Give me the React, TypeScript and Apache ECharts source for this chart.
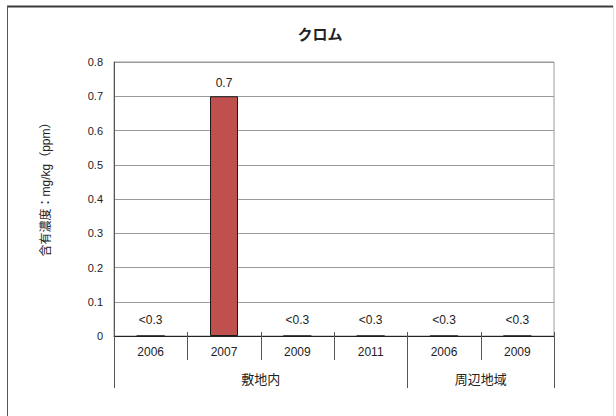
import React, { useEffect, useRef } from "react";
import * as echarts from "echarts";

const titleText = "クロム";
const yAxisName = "含有濃度：mg/kg（ppm）";
const years = ["2006", "2007", "2009", "2011", "2006", "2009"];
const values = [0, 0.7, 0, 0, 0, 0];
const valueLabels = ["<0.3", "0.7", "<0.3", "<0.3", "<0.3", "<0.3"];
const groupNames = ["敷地内", "周辺地域"];
const groupSizes = [4, 2];
const yMin = 0;
const yMax = 0.8;
const yStep = 0.1;

const FONT = "'Liberation Sans', 'Noto Sans CJK JP', sans-serif";

export default function App() {
  const ref = useRef<HTMLDivElement>(null);
  useEffect(() => {
    document.body.style.margin = "0";
    if (!ref.current) return;
    const chart = echarts.init(ref.current, null, { renderer: "svg" });

    // separator rows: [categoryIndex, side (-1 left / +1 right), level]
    const sepRows: number[][] = [];
    const groupRows: number[][] = [];
    let start = 0;
    groupSizes.forEach((n, g) => {
      for (let i = 0; i < n; i++) sepRows.push([start + i, -1, i === 0 ? 2 : 1]);
      groupRows.push([start, start + n - 1, g]);
      start += n;
    });
    sepRows.push([years.length - 1, 1, 2]);

    chart.setOption({
      animation: false,
      textStyle: { fontFamily: FONT },
      title: {
        text: titleText,
        left: 315,
        top: 22,
        textAlign: "center",
        textStyle: { fontSize: 15, fontWeight: "bold", color: "#222", fontFamily: FONT },
      },
      grid: { left: 114, right: 62, top: 62, bottom: 80, show: true, borderColor: "#9a9a9a", borderWidth: 1 },
      xAxis: {
        type: "category",
        data: years,
        axisLine: { show: true, lineStyle: { color: "#222", width: 1 } },
        axisTick: { show: false },
        axisLabel: { margin: 10, fontSize: 12, color: "#222", fontFamily: FONT },
      },
      yAxis: {
        type: "value",
        min: yMin,
        max: yMax,
        interval: yStep,
        name: yAxisName,
        nameLocation: "middle",
        nameGap: 62,
        nameTextStyle: { fontSize: 12, color: "#222", fontFamily: FONT, padding: [0, 0, 0, 25] },
        axisLine: { show: true, lineStyle: { color: "#555", width: 1 } },
        axisTick: { show: false },
        axisLabel: { margin: 11, fontSize: 11, color: "#222", fontFamily: FONT },
        splitLine: { show: true, lineStyle: { color: "#9a9a9a", width: 1 } },
      },
      graphic: [
        { type: "line", shape: { x1: 7, y1: 6.5, x2: 613, y2: 6.5 }, style: { stroke: "#3a3a3a", lineWidth: 2 }, silent: true },
        { type: "line", shape: { x1: 7.5, y1: 6, x2: 7.5, y2: 416 }, style: { stroke: "#555", lineWidth: 1 }, silent: true },
        { type: "line", shape: { x1: 613.5, y1: 6, x2: 613.5, y2: 416 }, style: { stroke: "#dddddd", lineWidth: 1 }, silent: true },
      ],
      series: [
        {
          type: "bar",
          barWidth: 28,
          data: values.map((v) => ({ value: v, label: { distance: v > 0 ? 7 : 10 } })),
          itemStyle: { color: "#C0504D", borderColor: "#1a1a1a", borderWidth: 1 },
          label: {
            show: true,
            position: "top",
            fontSize: 12,
            color: "#222",
            fontFamily: FONT,
            formatter: (p: any) => valueLabels[p.dataIndex],
          },
          z: 3,
        },
        {
          type: "custom",
          silent: true,
          data: sepRows,
          encode: { x: 0, y: 1 },
          renderItem: (params: any, api: any) => {
            const idx = api.value(0);
            const side = api.value(1);
            const level = api.value(2);
            const c = api.coord([idx, 0]);
            const band = api.size([1, 0])[0];
            const x = Math.round(c[0] + (side * band) / 2) + 0.5;
            return {
              type: "line",
              shape: { x1: x, y1: c[1] - 4, x2: x, y2: c[1] + (level === 2 ? 52 : 24) },
              style: { stroke: "#555", lineWidth: 1 },
            };
          },
          z: 4,
        },
        {
          type: "custom",
          silent: true,
          data: groupRows,
          encode: { x: 0, y: 1 },
          renderItem: (params: any, api: any) => {
            const s = api.value(0);
            const e = api.value(1);
            const g = api.value(2);
            const band = api.size([1, 0])[0];
            const cs = api.coord([s, 0]);
            const ce = api.coord([e, 0]);
            const xm = (cs[0] - band / 2 + ce[0] + band / 2) / 2;
            return {
              type: "text",
              style: {
                text: groupNames[g],
                x: xm,
                y: cs[1] + 43,
                align: "center",
                verticalAlign: "middle",
                fontSize: 13,
                fill: "#222",
                fontFamily: FONT,
              },
            };
          },
          z: 4,
        },
      ],
    });
    return () => chart.dispose();
  }, []);
  return <div ref={ref} style={{ width: 616, height: 416 }} />;
}
